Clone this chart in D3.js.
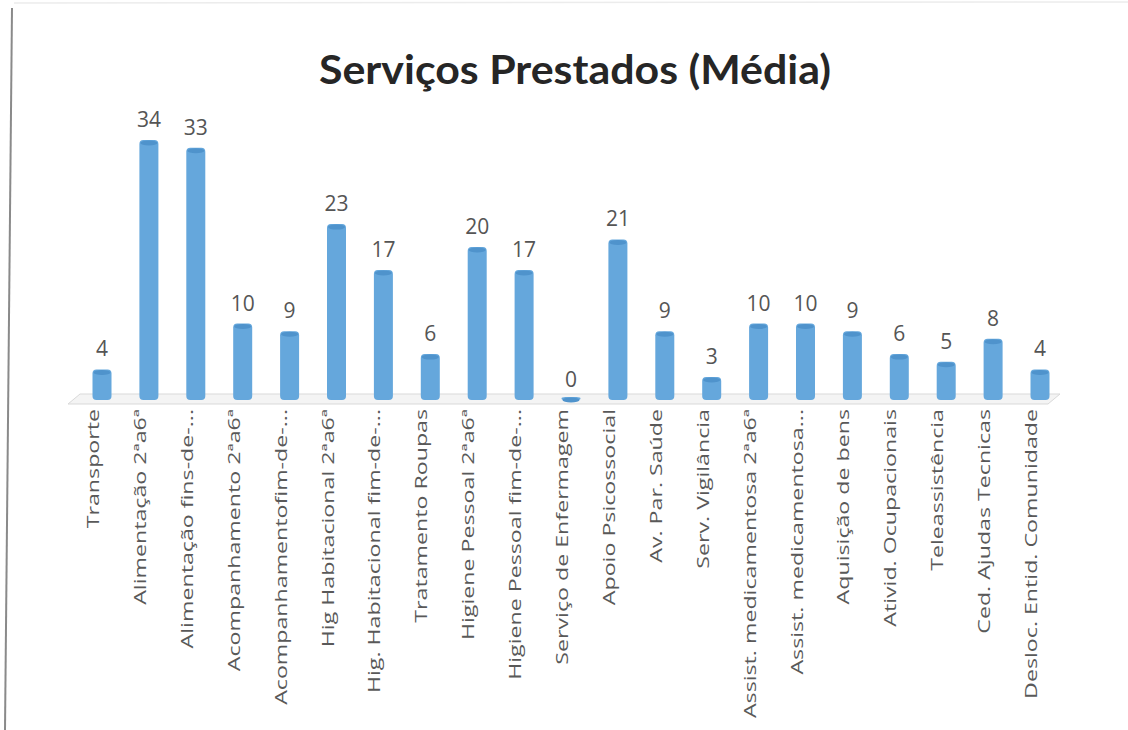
<!DOCTYPE html>
<html>
<head>
<meta charset="utf-8">
<script src="https://cdn.jsdelivr.net/npm/d3@7"></script>
<style>
  body { margin: 0; background: #fff; }
  svg { display: block; }
</style>
</head>
<body>
<div id="chart"></div>
<script>
var categories = ["Transporte", "Alimentação 2ªa6ª", "Alimentação fins-de-...", "Acompanhamento 2ªa6ª",
  "Acompanhamentofim-de-...", "Hig Habitacional 2ªa6ª", "Hig. Habitacional fim-de-...", "Tratamento Roupas",
  "Higiene Pessoal 2ªa6ª", "Higiene Pessoal fim-de-...", "Serviço de Enfermagem", "Apoio Psicossocial",
  "Av. Par. Saúde", "Serv. Vigilância", "Assist. medicamentosa 2ªa6ª", "Assist. medicamentosa...",
  "Aquisição de bens", "Ativid. Ocupacionais", "Teleassistência", "Ced. Ajudas Tecnicas", "Desloc. Entid. Comunidade"];
var values = [4, 34, 33, 10, 9, 23, 17, 6, 20, 17, 0, 21, 9, 3, 10, 10, 9, 6, 5, 8, 4];
var title = "Serviços Prestados (Média)";

var width = 1128, height = 730;
var font = "'Open Sans', 'Noto Sans', sans-serif";

var svg = d3.select("#chart").append("svg")
  .attr("width", width)
  .attr("height", height);

// scanned page edges
svg.append("line")
  .attr("x1", 12).attr("x2", 5).attr("y1", 8).attr("y2", height)
  .attr("stroke", "#8a8a8a").attr("stroke-width", 2);
svg.append("line")
  .attr("x1", 14).attr("x2", 1128).attr("y1", 3).attr("y2", 2)
  .attr("stroke", "#ececec").attr("stroke-width", 1.5);

var x = d3.scalePoint().domain(categories).range([102, 1040]);
var y = d3.scaleLinear().domain([0, 34]).range([400, 140]);
var barW = 19;

svg.append("text")
  .attr("x", 575).attr("y", 84)
  .attr("text-anchor", "middle")
  .attr("textLength", 512)
  .attr("lengthAdjust", "spacingAndGlyphs")
  .style("font-family", "Lato, 'Open Sans', sans-serif")
  .style("font-weight", "bold")
  .style("font-size", "41px")
  .style("fill", "#262626")
  .text(title);

// floor of the 3d plot
svg.append("path")
  .attr("d", "M68,404 L80,394 L1060,394 L1048,404 Z")
  .attr("fill", "#f4f4f4").attr("stroke", "#d9d9d9");

var bars = svg.append("g").selectAll("g").data(categories).enter().append("g");

bars.append("rect")
  .attr("x", function (d) { return x(d) - barW / 2; })
  .attr("y", function (d, i) { return Math.min(y(values[i]), y(0) - 3); })
  .attr("width", barW)
  .attr("height", function (d, i) { return Math.max(y(0) - y(values[i]), 3); })
  .attr("rx", 4)
  .attr("fill", "#65a7dc");

bars.append("ellipse")
  .attr("cx", function (d) { return x(d); })
  .attr("cy", function (d, i) { return Math.min(y(values[i]), y(0) - 3) + 3; })
  .attr("rx", barW / 2 - 1).attr("ry", 2.5)
  .attr("fill", "#4f93cc");

bars.append("text")
  .attr("x", function (d) { return x(d); })
  .attr("y", function (d, i) { return y(values[i]) - 13; })
  .attr("text-anchor", "middle")
  .style("font-family", font)
  .style("font-size", "21px")
  .style("fill", "#555")
  .text(function (d, i) { return values[i]; });

// long labels are stretched along their length, as in the scan
svg.append("g").selectAll("text").data(categories).enter().append("text")
  .attr("transform", function (d) { return "translate(" + (x(d) - 3) + ",409) rotate(-90) scale(1.45,1)"; })
  .attr("text-anchor", "end")
  .style("font-family", font)
  .style("font-size", "16px")
  .style("fill", "#595959")
  .text(function (d) { return d; });
</script>
</body>
</html>
